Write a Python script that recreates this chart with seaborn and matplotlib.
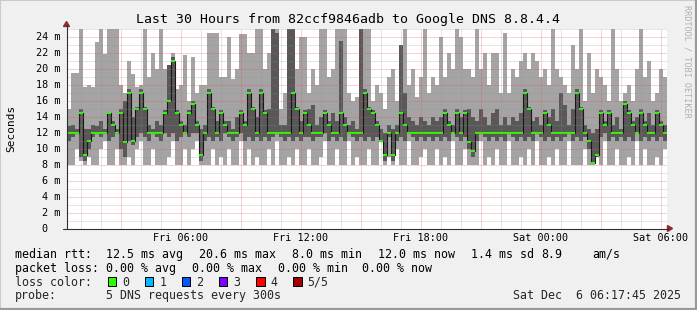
import numpy as np
import pandas as pd
import matplotlib
matplotlib.use("Agg")
import matplotlib.pyplot as plt
import seaborn as sns
from matplotlib.lines import Line2D
from matplotlib.patches import Polygon, Rectangle

# ---------------- data (ms), one value per 12-minute sample ----------------
rtt_min = [8, 8, 10, 8.5, 8, 9, 8, 8, 10, 11, 8, 8, 10, 8, 8, 9, 8, 10, 11, 8, 8, 10, 8, 8, 8, 9, 11, 8, 8, 10,
           8, 10, 11, 8, 8, 8, 10, 8, 9, 8, 10, 8, 8, 11, 8, 10, 8, 9, 8, 8, 10, 8, 11, 8, 8, 9, 8, 10, 8, 8,
           10, 8, 8, 9, 11, 8, 8, 10, 8, 8, 11, 8, 9, 8, 8, 10, 8, 8, 11, 8, 9, 8, 10, 8, 8, 11, 8, 8, 9, 10,
           8, 8, 10, 8, 9, 8, 11, 8, 8, 10, 8, 8, 8, 11, 8, 9, 8, 10, 8, 8, 11, 8, 8, 9, 8, 10, 8, 11, 8, 8,
           9, 8, 10, 8, 8, 11, 8, 8, 8, 10, 8, 8, 9, 8, 11, 8, 8, 10, 8, 8, 9, 8, 11, 8, 10, 8, 8, 9, 8, 10]
rtt_p2 = [11, 11.5, 12, 9, 8.5, 10, 11.5, 12, 11.5, 12, 11, 11.5, 12, 10, 9, 11, 10.5, 11.5, 12, 11.5, 11, 12, 11.5, 11, 12, 11.5, 12, 11, 11.5, 12,
          11.5, 12, 12, 8.5, 11, 11.5, 11, 11.5, 11, 12, 11.5, 11, 11.5, 12, 11, 11.5, 11, 11.5, 11, 11.5, 11, 11.5, 12, 11.5, 11, 11.5, 11, 11.5, 11, 11.5,
          11.5, 11, 11.5, 11.5, 12, 11, 11.5, 11, 11.5, 11, 12, 11.5, 11, 11.5, 11, 11.5, 11, 11.5, 11, 8.5, 11.5, 8.5, 11, 11.5, 11, 12, 11.5, 11, 11.5, 11,
          11.5, 11, 11.5, 11, 11.5, 11, 12, 11.5, 11, 11.5, 10, 9, 11, 12, 11.5, 11, 11.5, 11, 11.5, 11, 12, 11.5, 11, 11.5, 11, 11.5, 11, 12, 11.5, 11,
          11.5, 11, 11.5, 11, 11.5, 12, 11, 11.5, 11, 11.5, 10, 8.1, 9, 11.5, 12, 11, 11.5, 11, 11.5, 11, 11.5, 11, 12, 11, 11.5, 11, 11.5, 11, 11.5, 11]
rtt_median = [12, 12, 12, 14.5, 9.2, 11, 12, 12, 12, 12, 14.4, 13, 12, 14.5, 10.8, 16.9, 11, 15, 16.9, 15, 12, 12, 12, 12, 14.5, 15.9, 20.9, 14.5, 13, 12,
              14.4, 15.6, 13, 9.2, 12, 16.9, 15, 12, 14.4, 13, 12, 12, 12, 14.4, 13, 16.9, 15, 12, 16.9, 14.4, 12, 12, 12, 12, 12, 12, 16.9, 15, 12, 14.4,
              13, 12, 12, 12, 14.4, 13, 12, 12, 14.4, 13, 12, 12, 12, 12, 16.9, 15, 14.4, 13, 11, 9.2, 12, 9.2, 12, 14.4, 13, 12, 12, 12, 12, 12,
              12, 12, 12, 12, 14.4, 13, 12, 14.4, 12, 14.4, 10.8, 9.7, 12, 12, 12, 12, 12, 12, 12, 12, 12, 12, 12, 12, 16.9, 15, 12, 12, 12, 14.4,
              13, 12, 12, 12, 12, 12, 12, 16.9, 15, 12, 11, 8.2, 9.2, 14.4, 13, 14.4, 12, 12, 12, 15.6, 14.4, 13, 12, 14.4, 13, 12, 12, 14.4, 13, 12]
rtt_p4 = [12.8, 13, 12.5, 15, 12.5, 12.5, 13, 12.8, 13.5, 12.5, 14.5, 13.5, 12.5, 15, 16, 17.5, 14, 15.2, 17.5, 15.2, 13, 12.5, 13.5, 13, 14.8, 20.5, 21.5, 14.8, 13.5, 13,
          14.8, 16, 13.5, 12.5, 13, 17.5, 15.2, 13.5, 14.8, 13.5, 13.5, 12.5, 14, 14.8, 13.5, 17.5, 15.2, 14, 17.5, 14.8, 15, 25.5, 24.5, 13, 13, 25.5, 25.5, 15.2, 13.5, 14.8,
          15, 15.5, 13, 14, 14.8, 13.5, 14.5, 13.5, 23.4, 14, 13, 13.5, 12.5, 25.5, 17.5, 15.2, 14.8, 13.5, 12.5, 12, 13, 12.5, 13, 22.9, 17, 14, 13.5, 13, 14, 13.5,
          13, 14, 13.5, 14, 15, 13.5, 13, 15, 14, 14.8, 15, 14, 13.5, 15, 14, 13, 14.5, 15, 13, 14, 13, 14, 13.5, 14.5, 17.5, 15.2, 13.5, 14, 13, 14.8,
          14, 15, 13.5, 17, 15.5, 13, 15, 17.5, 15.2, 13, 12.5, 12, 12.5, 14.8, 13.5, 14.8, 13, 14, 12.5, 16, 14.8, 13.5, 14, 15, 13.5, 14.5, 13, 14.8, 13.5, 13]
rtt_max = [15, 19.5, 19.5, 25, 17.7, 18, 17.7, 23.3, 25.5, 21.8, 25.5, 25.5, 25.5, 18, 17, 21, 19.3, 17.7, 18, 25.5, 19, 22, 20, 25.5, 20, 20.5, 22, 17.5, 18, 21.7,
           16, 21.5, 17, 18, 18, 24.5, 24.5, 24.5, 19, 19, 24, 18.7, 20, 24.3, 24.3, 22, 22, 25.5, 25.5, 20, 22, 25.5, 25.5, 15, 17, 25.5, 25.5, 20, 24, 24,
           17, 20, 18, 25.5, 25.5, 19, 20, 25.5, 25.5, 25.5, 17, 16, 16.5, 25.5, 25.5, 25.5, 16, 18, 17, 15, 19, 20, 16, 22.9, 25.5, 18, 20, 16.5, 19, 25,
           17, 19, 18, 24, 19, 22, 20, 25.5, 24, 20, 20, 19, 25.5, 20, 22, 18, 22, 22, 17, 24.5, 17, 20, 19, 21, 22, 20, 22, 21, 19, 20,
           18, 25.5, 20, 19, 18, 17, 23, 20, 25.5, 16, 22, 17, 20, 19, 18, 16, 25.5, 20, 16, 17, 18, 16, 20, 25.5, 19, 21, 16, 17, 20, 19]

x_tick_hours = [6, 12, 18, 24, 30]
x_tick_labels = ["Fri 06:00", "Fri 12:00", "Fri 18:00", "Sat 00:00", "Sat 06:00"]
y_tick_values = [0, 2, 4, 6, 8, 10, 12, 14, 16, 18, 20, 22, 24]
loss_labels = ["0", "1", "2", "3", "4", "5/5"]
loss_colors = ["#26ff00", "#00b8ff", "#0059ff", "#7e00ff", "#ff0000", "#a10000"]

title = "Last 30 Hours from 82ccf9846adb to Google DNS 8.8.4.4"
legend_rows = [
    [("median rtt:", 15), ("12.5 ms avg", 106.3), ("20.6 ms max", 199), ("8.0 ms min", 291.7),
     ("12.0 ms now", 378.3), ("1.4 ms sd", 471.3), ("8.9", 541.7), ("am/s", 592.3)],
    [("packet loss:", 15), ("0.00 % avg", 106.3), ("0.00 % max", 192.3), ("0.00 % min", 278.3),
     ("0.00 % now", 362.3)],
]
probe_text = "5 DNS requests every 300s"
stamp_text = "Sat Dec  6 06:17:45 2025"

# ---------------- layout ----------------
W, H = 697, 310
START_H = (17 + 45 / 60) / 60       # Fri 00:17:45 in hours since Fri 00:00
STEP_H = 0.2                        # 12 minutes per sample
SPAN_H = 30.0

sns.set_theme(style="white")
plt.rcParams["font.family"] = ["DejaVu Sans Mono", "DejaVu Sans"]

def fx(px):
    return px / W

def fy(py):
    return 1 - py / H

fig = plt.figure(figsize=(W / 100, H / 100), dpi=100, facecolor="#f0f0f0")
X0, X1, Y0, Y1 = 66.6, 666.6, 228.5, 28.5
ax = fig.add_axes([fx(X0), fy(Y0), fx(X1) - fx(X0), fy(Y1) - fy(Y0)])
ax.set_facecolor("white")

n = len(rtt_median)
df = pd.DataFrame({
    "t": START_H + STEP_H * np.arange(n),
    "lo": rtt_min, "p2": rtt_p2, "med": rtt_median, "p4": rtt_p4, "hi": rtt_max,
})
ext = pd.concat([df, df.iloc[[-1]].assign(t=START_H + STEP_H * n)], ignore_index=True)

# smoke
ax.fill_between(ext["t"], ext["lo"], ext["hi"], step="post", color="#a4a4a4", lw=0, zorder=1)
ax.fill_between(ext["t"], ext["p2"], ext["p4"], step="post", color="#585858", lw=0, zorder=2)
# median connectors + green median marks
sns.lineplot(data=ext, x="t", y="med", drawstyle="steps-post", color="#161616",
             lw=0.8, ax=ax, zorder=3)
ax.hlines(df["med"], df["t"], df["t"] + STEP_H, color=loss_colors[0], lw=1.5, zorder=4)

ax.set_xlim(START_H, START_H + SPAN_H)
ax.set_ylim(0, 25)

# grid (drawn over the data like rrdtool)
minor_col = (0.56, 0.56, 0.56, 0.45)
major_col = (0.87, 0.31, 0.31, 0.5)
for h in range(1, 31):
    if START_H < h < START_H + SPAN_H:
        ax.axvline(h, color=major_col if h % 3 == 0 else minor_col, lw=0.72,
                   ls=(0, (1, 1)), zorder=5)
for v in range(1, 26):
    ax.axhline(v, color=major_col if v % 2 == 0 else minor_col, lw=0.72,
               ls=(0, (1, 1)), zorder=5)

for s in ax.spines.values():
    s.set_visible(False)

ax.set_yticks(y_tick_values)
ax.set_yticklabels([f"{v} m" if v else "0  " for v in y_tick_values])
ax.set_yticks(range(1, 26, 2), minor=True)
maj = list(range(3, 31, 3))
ax.set_xticks(maj)
ax.set_xticklabels([x_tick_labels[x_tick_hours.index(h)] if h in x_tick_hours else "" for h in maj])
ax.set_xticks([h for h in range(1, 31) if h % 3], minor=True)
ax.tick_params(axis="both", which="major", direction="out", length=2.2, width=0.72,
               color="#303030", labelsize=7.3, labelcolor="black")
ax.tick_params(axis="both", which="minor", direction="out", length=1.4, width=0.72,
               color="#303030")
ax.tick_params(axis="x", which="major", pad=1.0)
ax.tick_params(axis="y", which="major", pad=2.4)
ax.set_xlabel("")
ax.set_ylabel("")

# axes lines and arrows
axis_col = "#303030"
arrow_col = "#8c2c2c"
fig.add_artist(Line2D([fx(66.5), fx(66.5)], [fy(228.5), fy(25)], color=axis_col, lw=0.8,
                      transform=fig.transFigure))
fig.add_artist(Line2D([fx(62.5), fx(668)], [fy(228.5), fy(228.5)], color=axis_col, lw=0.8,
                      transform=fig.transFigure))
fig.add_artist(Polygon([(fx(63.5), fy(26.5)), (fx(69.5), fy(26.5)), (fx(66.5), fy(21.5))],
                       closed=True, color=arrow_col, transform=fig.transFigure))
fig.add_artist(Polygon([(fx(667.5), fy(225.5)), (fx(667.5), fy(231.5)), (fx(672.5), fy(228.5))],
                       closed=True, color=arrow_col, transform=fig.transFigure))

# texts
fig.text(fx(347.5), fy(19.3), title, ha="center", va="center", size=9.55, color="black")
fig.text(fx(11), fy(128), "Seconds", rotation=90, ha="center", va="center", size=8, color="black")
fig.text(fx(686.7), fy(61), "RRDTOOL / TOBI OETIKER", rotation=270, ha="center", va="center",
         size=6.1, color="#b0b0b0")

row_y = [254.3, 268.3, 282.3, 295.7]
for row, yy in zip(legend_rows, row_y[:2]):
    for s, xx in row:
        fig.text(fx(xx), fy(yy), s, ha="left", va="center", size=8.37, color="black")
fig.text(fx(15), fy(row_y[2]), "loss color:", ha="left", va="center", size=8.37)
for k, (lab, col) in enumerate(zip(loss_labels, loss_colors)):
    bx = 108 + 37.06 * k
    fig.add_artist(Rectangle((fx(bx), fy(285.7)), 8.3 / W, 8.4 / H, facecolor=col,
                             edgecolor="black", lw=0.72, transform=fig.transFigure))
    fig.text(fx(bx + 14.3), fy(row_y[2]), lab, ha="left", va="center", size=8.37)
fig.text(fx(15), fy(row_y[3]), "probe:", ha="left", va="center", size=8.37)
fig.text(fx(106.3), fy(row_y[3]), probe_text, ha="left", va="center", size=8.37)
fig.text(fx(681), fy(row_y[3]), stamp_text, ha="right", va="center", size=8.37)

# 3D frame
fig.add_artist(Line2D([0, 0, 1], [0, 1, 1], color="#cbcbcb", lw=1.5, transform=fig.transFigure))
fig.add_artist(Line2D([0, 1, 1], [0, 0, 1], color="#999999", lw=3, transform=fig.transFigure))

fig.savefig("out.png", dpi=100, facecolor=fig.get_facecolor())
